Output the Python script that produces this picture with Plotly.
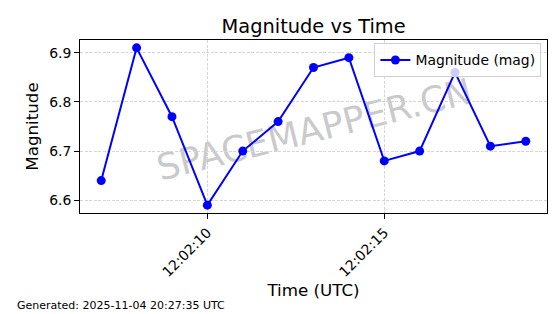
import plotly.graph_objects as go
import pandas as pd

times = ["2025-11-04 12:02:07", "2025-11-04 12:02:08", "2025-11-04 12:02:09",
         "2025-11-04 12:02:10", "2025-11-04 12:02:11", "2025-11-04 12:02:12",
         "2025-11-04 12:02:13", "2025-11-04 12:02:14", "2025-11-04 12:02:15",
         "2025-11-04 12:02:16", "2025-11-04 12:02:17", "2025-11-04 12:02:18",
         "2025-11-04 12:02:19"]
magnitudes = [6.64, 6.91, 6.77, 6.59, 6.70, 6.76, 6.87, 6.89, 6.68, 6.70, 6.86, 6.71, 6.72]
x_tickvals = ["2025-11-04 12:02:10", "2025-11-04 12:02:15"]
x_ticktext = ["12:02:10", "12:02:15"]
y_tickvals = [6.6, 6.7, 6.8, 6.9]
series_name = "Magnitude (mag)"
footer = "Generated: 2025-11-04 20:27:35 UTC"
watermark = "SPACEMAPPER.CN"

FONT = "DejaVu Sans"

fig = go.Figure()
fig.add_trace(go.Scatter(
    x=pd.to_datetime(times), y=magnitudes, mode="lines+markers", name=series_name,
    line=dict(color="#0000FF", width=2),
    marker=dict(color="#0000FF", size=9, symbol="circle"),
))

grid = dict(showgrid=True, gridcolor="#d6d6d6", gridwidth=0.8, griddash="3px,1.5px")

fig.update_layout(
    width=560, height=314,
    margin=dict(l=80, r=13, t=40, b=101),
    paper_bgcolor="white", plot_bgcolor="white",
    font=dict(family=FONT, color="black", size=14),
    title=dict(text="Magnitude vs Time", x=0.56, xanchor="center",
               y=0.915, yanchor="middle", font=dict(size=19.4, family=FONT)),
    showlegend=True,
    legend=dict(x=0.988, xanchor="right", y=0.98, yanchor="top",
                bgcolor="rgba(255,255,255,0.8)", bordercolor="#d0d0d0", borderwidth=1,
                font=dict(size=13.9, family=FONT), itemwidth=30,
                tracegroupgap=0),
    xaxis=dict(
        type="date",
        range=["2025-11-04 12:02:06.4", "2025-11-04 12:02:19.6"],
        tickmode="array", tickvals=x_tickvals, ticktext=x_ticktext,
        tickangle=-45, ticks="outside", ticklen=5, tickcolor="black",
        tickfont=dict(size=13.9, family=FONT),
        showline=True, linecolor="black", linewidth=1, mirror=True,
        title=dict(text="Time (UTC)", font=dict(size=16.7, family=FONT), standoff=2),
        automargin=False, zeroline=False, **grid,
    ),
    yaxis=dict(
        range=[6.574, 6.926],
        tickmode="array", tickvals=y_tickvals, ticktext=[f"{v:.1f}" for v in y_tickvals],
        ticks="outside", ticklen=5, tickcolor="black",
        tickfont=dict(size=13.9, family=FONT),
        showline=True, linecolor="black", linewidth=1, mirror=True,
        title=dict(text="Magnitude", font=dict(size=16.7, family=FONT), standoff=6),
        automargin=False, zeroline=False, **grid,
    ),
)

fig.add_shape(
    type="rect", xref="x domain", yref="y domain", x0=0, x1=1, y0=0, y1=1,
    line=dict(width=0), fillcolor="rgba(0,0,0,0)", layer="below",
    label=dict(text=watermark, textangle=-14, textposition="middle center",
               font=dict(size=36, family=FONT, color="rgba(150,150,150,0.5)")),
)

fig.add_annotation(
    text=footer, xref="paper", yref="paper",
    x=(15 - 80) / 467, y=(213 - 305) / 173, xanchor="left", yanchor="middle",
    showarrow=False, font=dict(size=11, family=FONT, color="black"),
)

fig.write_html("out.html")
